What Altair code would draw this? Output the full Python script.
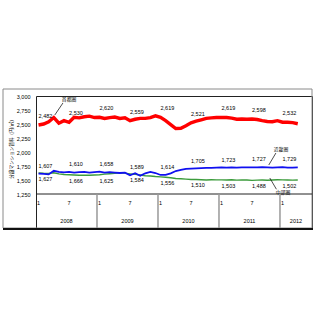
import altair as alt
import pandas as pd

# Monthly index: 0 = Jan 2008 ... 51 = Apr 2012
months = list(range(52))

shutoken = [2482, 2500, 2540, 2615, 2515, 2560, 2530, 2620, 2610, 2630, 2640, 2615,
            2620, 2600, 2615, 2625, 2600, 2610, 2559, 2585, 2600, 2600, 2615, 2645,
            2619, 2560, 2490, 2420, 2425, 2470, 2521, 2550, 2575, 2600, 2610, 2615,
            2619, 2615, 2605, 2585, 2590, 2585, 2590, 2580, 2560, 2545, 2540, 2560,
            2532, 2530, 2525, 2505]
kinki = [1615, 1610, 1600, 1665, 1645, 1635, 1645, 1632, 1640, 1645, 1632, 1640,
         1648, 1632, 1640, 1632, 1625, 1632, 1585, 1620, 1575, 1620, 1645, 1625,
         1590, 1592, 1620, 1660, 1680, 1700, 1705, 1708, 1712, 1715, 1718, 1720,
         1723, 1722, 1725, 1722, 1726, 1724, 1727, 1725, 1728, 1724, 1722, 1725,
         1729, 1722, 1720, 1725]
chubu = [1627, 1620, 1618, 1630, 1610, 1598, 1595, 1590, 1585, 1588, 1585, 1590,
         1595, 1605, 1612, 1620, 1630, 1622, 1610, 1600, 1590, 1575, 1572, 1562,
         1556, 1550, 1540, 1528, 1522, 1515, 1510, 1508, 1505, 1500, 1505, 1502,
         1503, 1500, 1504, 1498, 1502, 1500, 1494, 1498, 1500, 1496, 1500, 1505,
         1502, 1500, 1498, 1500]

label_months = [0, 6, 12, 18, 24, 30, 36, 42, 48]
shutoken_labels = ["2,482", "2,530", "2,620", "2,559", "2,619", "2,521", "2,619", "2,598", "2,532"]
kinki_labels = ["1,607", "1,610", "1,658", "1,589", "1,614", "1,705", "1,723", "1,727", "1,729"]
chubu_labels = ["1,627", "1,666", "1,625", "1,584", "1,556", "1,510", "1,503", "1,488", "1,502"]
month_tick_text = ["1", "7", "1", "7", "1", "7", "1", "7", "1"]

years = ["2008", "2009", "2010", "2011", "2012"]
year_start = [-0.5, 11.5, 23.5, 35.5, 47.5]
year_end = [11.5, 23.5, 35.5, 47.5, 53.8]
year_bounds = [11.5, 23.5, 35.5, 47.5]

y_ticks = [1250, 1500, 1750, 2000, 2250, 2500, 2750, 3000]
y_title = "分譲マンション賃料（円/㎡）"

series_names = ["首都圏", "近畿圏", "中部圏"]
name_m = [6.0, 47.7, 48.1]
name_v = [2929, 2036, 1272]
leader_m = [3.2, 45.3, 45.5]
leader_v = [2661, 1768, 1536]
leader_m2 = [4.8, 46.7, 46.8]
leader_v2 = [2875, 1982, 1335]

NUM_FONT = "Liberation Sans"
JP_FONT = "Noto Sans CJK JP"

xs = alt.Scale(domain=[-0.5, 53.8], nice=False, zero=False)
ys = alt.Scale(domain=[643, 3000], nice=False, zero=False)
yaxis = alt.Axis(values=y_ticks, format=",.0f", domain=False, ticks=False, tickSize=0,
                 grid=False, labelFontSize=5.5, labelPadding=6, title=None,
                 labelFont=NUM_FONT, labelColor="#000")

def X(f="m"):
    return alt.X(f"{f}:Q", scale=xs, axis=None)

def Y(f="v"):
    return alt.Y(f"{f}:Q", scale=ys, axis=yaxis)

def line_df(vals):
    return pd.DataFrame({"m": months, "v": vals})

def label_df(vals, labels):
    return pd.DataFrame({"m": label_months, "v": [vals[i] for i in label_months], "t": labels})

layers = []

one = pd.DataFrame({"a": [0]})

# outer frame
layers.append(alt.Chart(one).mark_rect(fill=None, stroke="#8a8a8a", strokeWidth=1).encode(
    x=alt.value(-33), x2=alt.value(276), y=alt.value(-7), y2=alt.value(132)))

# x-axis table lines
layers.append(alt.Chart(one).mark_rule(color="#222", strokeWidth=1).encode(
    x=alt.value(0), x2=alt.value(276), y=alt.value(98)))
layers.append(alt.Chart(pd.DataFrame({"m": year_bounds})).mark_rule(color="#999", strokeWidth=1.5).encode(
    x=X(), y=alt.value(98), y2=alt.value(132)))
layers.append(alt.Chart(one).mark_rule(color="#111", strokeWidth=2).encode(
    x=alt.value(-33), x2=alt.value(277), y=alt.value(133)))

# month and year labels
layers.append(alt.Chart(pd.DataFrame({"m": label_months, "t": month_tick_text})).mark_text(
    font=NUM_FONT, fontSize=5.5, color="#000", baseline="middle").encode(
    x=X(), y=alt.value(107), text="t:N"))
ydf = pd.DataFrame({"s": year_start, "e": year_end, "t": years})
layers.append(alt.Chart(ydf).transform_calculate(c="(datum.s + datum.e) / 2").mark_text(
    font=NUM_FONT, fontSize=5.5, color="#000", baseline="middle").encode(
    x=X("c"), y=alt.value(125), text="t:N"))

# lines
layers.append(alt.Chart(line_df(chubu)).mark_line(color="#3c9c3c", strokeWidth=1.4).encode(x=X(), y=Y()))
layers.append(alt.Chart(line_df(kinki)).mark_line(color="#1010f0", strokeWidth=1.8).encode(x=X(), y=Y()))
layers.append(alt.Chart(line_df(shutoken)).mark_line(color="#ff0000", strokeWidth=3.4).encode(x=X(), y=Y()))

# value labels
for vals, labs, dy in [(shutoken, shutoken_labels, -9), (kinki, kinki_labels, -8), (chubu, chubu_labels, 6)]:
    layers.append(alt.Chart(label_df(vals, labs)).mark_text(
        font=NUM_FONT, fontSize=5.5, color="#000", align="left", baseline="middle", dy=dy).encode(
        x=X(), y=Y(), text="t:N"))

# series names and leader lines
ndf = pd.DataFrame({"m": name_m, "v": name_v, "t": series_names,
                    "lm": leader_m, "lv": leader_v, "lm2": leader_m2, "lv2": leader_v2})
layers.append(alt.Chart(ndf).mark_rule(color="#000", strokeWidth=0.7).encode(
    x=X("lm"), x2="lm2:Q", y=Y("lv"), y2="lv2:Q"))
layers.append(alt.Chart(ndf).mark_text(font=JP_FONT, fontSize=4.8, color="#000", baseline="middle").encode(
    x=X(), y=Y(), text="t:N"))

# y-axis title
layers.append(alt.Chart(pd.DataFrame({"t": [y_title]})).mark_text(
    font=JP_FONT, fontSize=4.6, color="#000", angle=270, baseline="middle").encode(
    x=alt.value(-24), y=alt.value(52), text="t:N"))

chart = alt.layer(*layers).properties(
    width=276, height=132,
    autosize=alt.AutoSizeParams(type="none"),
    padding={"left": 36, "top": 96, "right": 8, "bottom": 92},
    background="white",
).configure_view(stroke="#222", strokeWidth=1)

chart.save("out.html", embed_options={"renderer": "svg", "actions": False})
